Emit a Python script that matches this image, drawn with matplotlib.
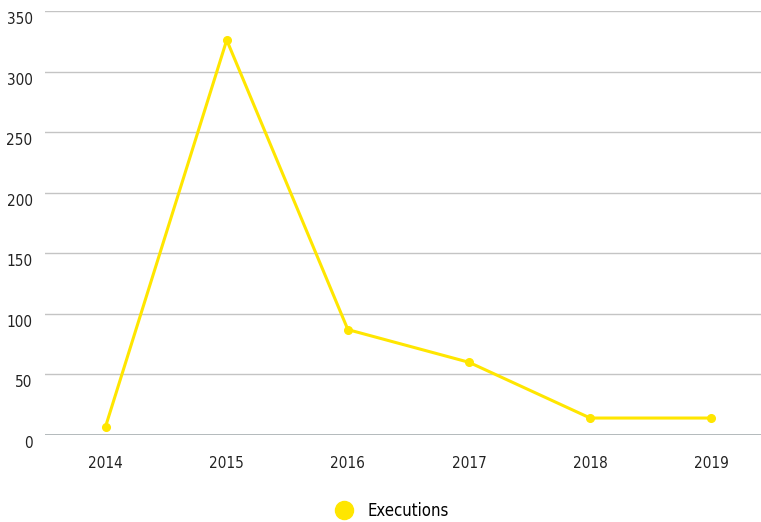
import matplotlib
matplotlib.use("Agg")
import matplotlib.pyplot as plt
import matplotlib.transforms as mtransforms
from matplotlib.lines import Line2D

years = ["2014", "2015", "2016", "2017", "2018", "2019"]
executions = [7, 326, 87, 60, 14, 14]
y_ticks = [0, 50, 100, 150, 200, 250, 300, 350]
series_name = "Executions"

plt.rcParams['font.family'] = ['DejaVu Sans']
plt.rcParams['font.stretch'] = 'condensed'

fig = plt.figure(figsize=(7.61, 5.22), dpi=100)
ax = fig.add_axes([45 / 761, 1 - 435 / 522, 716 / 761, 424 / 522])

x = list(range(len(years)))
ax.plot(x, executions, color='#ffe600', linewidth=2.2, marker='o', markersize=5.5,
        zorder=3, clip_on=False)

ax.set_xlim(-0.5, 5.41)
ax.set_ylim(0, 350)
ax.set_yticks(y_ticks)
ax.set_xticks(x)
ax.set_xticklabels(years)
ax.grid(axis='y', color='#c4c4c4', linewidth=1)
ax.set_axisbelow(True)
for s in ax.spines.values():
    s.set_visible(False)
ax.axhline(0, color='#a9b0b3', linewidth=1.2, zorder=2)

ax.tick_params(axis='both', length=0, labelsize=11, colors='#222222')
ax.tick_params(axis='y', pad=9)
ax.tick_params(axis='x', pad=15)
offset = mtransforms.ScaledTranslation(0, -7 / 100, fig.dpi_scale_trans)
for lbl in ax.get_yticklabels():
    lbl.set_transform(lbl.get_transform() + offset)

handle = Line2D([], [], color='#ffe600', marker='o', linestyle='none', markersize=13)
fig.legend([handle], [series_name], loc='center', bbox_to_anchor=(388 / 761, 1 - 511 / 522),
           frameon=False, fontsize=12, handletextpad=0.4)

fig.savefig("out.png", dpi=100)
